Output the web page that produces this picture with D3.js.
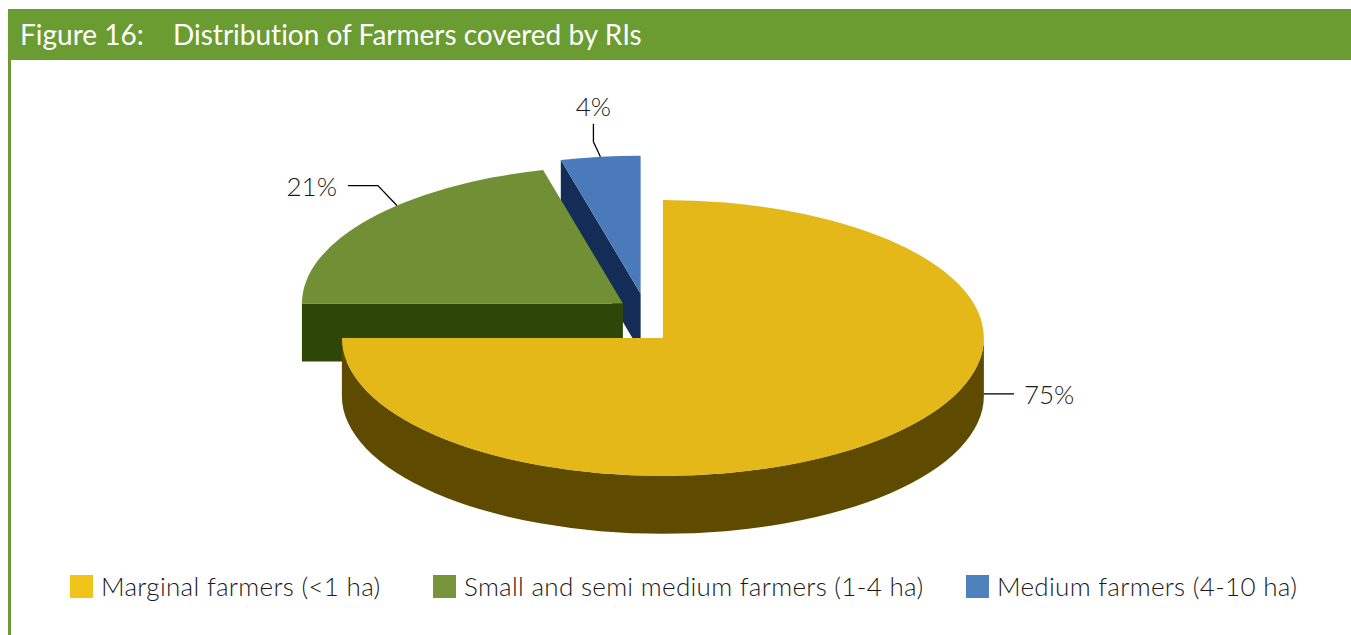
<!DOCTYPE html>
<html lang="en">
<head>
    <meta charset="UTF-8">
    <title>Distribution of Farmers covered by RIs</title>
    <script src="https://d3js.org/d3.v7.min.js"></script>
    <style>
        body { margin: 0; background: #fff; }
        text { font-family: Lato, "Open Sans", sans-serif; font-variant-ligatures: none; }
        .title { fill: #fff; font-size: 28px; font-weight: 400; }
        .lbl { fill: #1a1a1a; font-size: 26px; font-weight: 300; }
        .legend text { fill: #1a1a1a; font-size: 26px; font-weight: 300; letter-spacing: 0.3px; }
    </style>
</head>
<body>
    <div id="chart"></div>

    <script>
        // values
        const categories = ["Marginal farmers (<1 ha)", "Small and semi medium farmers (1-4 ha)", "Medium farmers (4-10 ha)"];
        const shares = [75, 21, 4];
        const shareLabels = ["75%", "21%", "4%"];

        const width = 1351, height = 635;
        const svg = d3.select("#chart").append("svg")
            .attr("width", width)
            .attr("height", height);

        // frame: title band + left rule
        svg.append("rect").attr("x", 8).attr("y", 9).attr("width", width - 8).attr("height", 51).attr("fill", "#6a9c32");
        svg.append("rect").attr("x", 8).attr("y", 60).attr("width", 3).attr("height", height - 60).attr("fill", "#6a9c32");
        const title = svg.append("text").attr("class", "title").attr("y", 45);
        title.append("tspan").attr("x", 20).text("Figure 16:");
        title.append("tspan").attr("x", 173).text("Distribution of Farmers covered by RIs");

        const topColor = d3.scaleOrdinal(categories, ["#e3b818", "#718f34", "#4a7aba"]);
        const sideColor = d3.scaleOrdinal(categories, ["#5e4b00", "#2e4608", "#142d56"]);
        const keyColor = d3.scaleOrdinal(categories, ["#f1c419", "#77933c", "#4f81bd"]);

        // 3D pie geometry
        const cx = 644, cy = 319.5, rx = 321, ry = 138, depth = 58;
        const explodeX = 26.7, explodeY = 26;

        const pie = d3.pie().sort(null).value(d => d.value);
        const arcs = pie(categories.map((c, i) => ({ name: c, value: shares[i], label: shareLabels[i] })));

        const pt = (a, c, dz = 0) => [c[0] + rx * Math.sin(a), c[1] - ry * Math.cos(a) + dz];

        arcs.forEach(d => {
            const mid = (d.startAngle + d.endAngle) / 2;
            d.c = [cx + explodeX * Math.sin(mid), cy - explodeY * Math.cos(mid)];
            d.mid = mid;
        });

        const g = svg.append("g");

        function radialFace(a, c) {
            return `M${c}L${pt(a, c)}L${pt(a, c, depth)}L${[c[0], c[1] + depth]}Z`;
        }

        // back to front: blue, green, yellow
        [2, 1, 0].forEach(i => {
            const d = arcs[i], c = d.c, a0 = d.startAngle, a1 = d.endAngle;
            const side = sideColor(d.data.name);

            if (Math.sin(a0) < -1e-6) {
                g.append("path").attr("d", radialFace(a0, c)).attr("fill", side);
            }
            if (Math.sin(a1) > 1e-6) {
                g.append("path").attr("d", radialFace(a1, c)).attr("fill", side);
            }
            const v0 = Math.max(a0, Math.PI / 2), v1 = Math.min(a1, 3 * Math.PI / 2);
            if (v1 > v0) {
                g.append("path")
                    .attr("d", `M${pt(v0, c)}A${rx},${ry} 0 0 1 ${pt(v1, c)}L${pt(v1, c, depth)}A${rx},${ry} 0 0 0 ${pt(v0, c, depth)}Z`)
                    .attr("fill", side);
            }
            const large = a1 - a0 > Math.PI ? 1 : 0;
            g.append("path")
                .attr("d", `M${c}L${pt(a0, c)}A${rx},${ry} 0 ${large} 1 ${pt(a1, c)}Z`)
                .attr("fill", topColor(d.data.name));
        });

        // data labels with leader lines
        const labels = svg.append("g");
        function leader(points) {
            labels.append("path").attr("d", d3.line()(points))
                .attr("fill", "none").attr("stroke", "#000").attr("stroke-width", 1.3);
        }

        {
            const d = arcs[0];
            const a = pt(Math.PI / 2, d.c, depth - 2);
            const e = [a[0] + 30, a[1]];
            leader([a, e]);
            labels.append("text").attr("class", "lbl").attr("x", e[0] + 10).attr("y", e[1] + 10).text(d.data.label);
        }
        {
            const d = arcs[1];
            const a = pt(d.mid + 0.13, d.c);
            const k = [a[0] - 19, a[1] - 20];
            const e = [k[0] - 30, k[1]];
            leader([a, k, e]);
            labels.append("text").attr("class", "lbl").attr("text-anchor", "end")
                .attr("x", e[0] - 11).attr("y", e[1] + 10).text(d.data.label);
        }
        {
            const d = arcs[2];
            const a = pt(d.mid, d.c);
            const k = [a[0] - 7, a[1] - 15];
            const e = [k[0], k[1] - 18];
            leader([a, k, e]);
            labels.append("text").attr("class", "lbl").attr("text-anchor", "middle")
                .attr("x", e[0]).attr("y", e[1] - 8).text(d.data.label);
        }

        // legend
        const legendX = [70, 433, 966];
        const legend = svg.append("g").attr("class", "legend");
        categories.forEach((c, i) => {
            const item = legend.append("g").attr("transform", `translate(${legendX[i]},575)`);
            item.append("rect").attr("width", 23).attr("height", 23).attr("fill", keyColor(c));
            item.append("text").attr("x", 31).attr("y", 21).text(c);
        });
    </script>
</body>
</html>
